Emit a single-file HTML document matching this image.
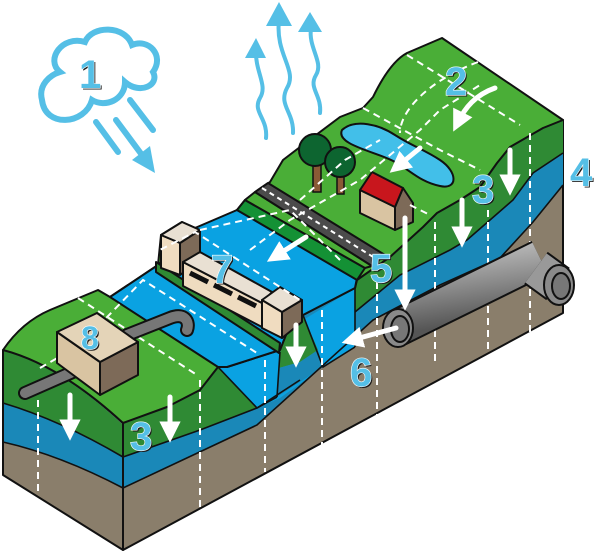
<!DOCTYPE html>
<html><head><meta charset="utf-8"><style>
html,body{margin:0;padding:0;background:#fff;width:600px;height:553px;overflow:hidden}
svg{display:block}
.n{font-family:"Liberation Sans",sans-serif;font-weight:bold;font-size:40px;fill:#55bfe6;stroke:#fff;stroke-width:1.2;paint-order:stroke}
.ns{font-family:"Liberation Sans",sans-serif;font-weight:bold;font-size:40px;fill:#1a1a1a}
.d{fill:none;stroke:#fff;stroke-width:2;stroke-dasharray:7 5}
.o{stroke:#111;stroke-width:2;stroke-linejoin:round}
.wa{stroke:#fff;stroke-width:5;fill:none;stroke-linecap:round}
</style></head><body>
<svg width="600" height="553" viewBox="0 0 600 553" xmlns="http://www.w3.org/2000/svg">
<defs>
<marker id="ah" viewBox="0 0 10 10" refX="5" refY="5" markerWidth="4.3" markerHeight="4.3" orient="auto"><path d="M0,0 L10,5 L0,10 z" fill="#fff"/></marker>
<linearGradient id="pg" x1="0" y1="0" x2="0.3" y2="1"><stop offset="0" stop-color="#bdbdbd"/><stop offset="0.5" stop-color="#8a8a8a"/><stop offset="1" stop-color="#555"/></linearGradient>
</defs>

<g fill="none" stroke="#55bfe6" stroke-width="6" stroke-linecap="round">
<path d="M60,72 C45,60 62,35 85,42 C92,25 125,25 132,45 C148,38 165,55 153,72 C160,85 140,95 125,82 C125,100 105,108 92,100 C85,125 45,128 42,100 C38,85 50,75 60,72 Z"/>
<line x1="96" y1="122" x2="118" y2="152"/>
<line x1="130" y1="100" x2="153" y2="130"/>
<line x1="116" y1="120" x2="142" y2="155" stroke-width="6"/>
</g>
<path d="M132,160 L155,173 L150,146 Z" fill="#55bfe6"/>
<g fill="none" stroke="#55bfe6" stroke-width="4" stroke-linecap="round">
<path d="M266,138 C268,118 252,112 260,98 C268,85 255,72 256,50"/>
<path d="M293,133 C294,112 278,105 287,88 C298,70 275,55 279,20"/>
<path d="M320,113 C322,95 308,88 316,75 C324,62 308,48 311,28"/>
</g>
<path d="M245,58 L256,38 L266,58 Z M266,26 L279,2 L292,26 Z M298,32 L310,12 L322,32 Z" fill="#55bfe6"/>

<path class="o" fill="#8a7e6b" d="M123,423 L167,407 L200,390 L218,367 L227,367 L280,350 L293,317 L303,315 L355,288 L357,280 L390,257 L423,227 L437,213 L460,200 L480,187 L497,163 L510,147 L543,128 L563,120 L563,313 L123,550 Z"/>
<path fill="#1a88b8" d="M123,423 L167,407 L200,390 L218,367 L227,367 L280,350 L293,317 L303,315 L355,288 L357,280 L390,257 L423,227 L437,213 L460,200 L480,187 L497,163 L510,147 L543,128 L563,120 L563,185 L533,222 L500,258 L440,285 L373,320 L257,425 L123,488 Z"/>
<path fill="#2f8a34" d="M123,423 L167,407 L200,390 L218,367 L257,408 L200,430 L123,457 Z"/>
<path fill="#2f8a34" d="M355,288 L357,280 L390,257 L423,227 L437,213 L460,200 L480,187 L497,163 L510,147 L543,128 L563,120 L563,153 L533,173 L513,200 L490,220 L467,240 L450,250 L400,275 L355,312 Z"/>
<path fill="#0aa2e2" d="M218,367 L227,367 L355,288 L355,347 L323,367 L280,398 L257,408 Z"/>
<path fill="#2f8a34" d="M280,352 L293,317 L303,315 L318,350 L300,362 L279,368 Z"/>
<path fill="#1a88b8" d="M279,368 L300,362 L318,350 L323,367 L277,397 Z"/>
<g fill="none" stroke="#111" stroke-width="1.6">
<path d="M123,457 L200,430 L257,408"/>
<path d="M123,488 L257,425 L373,320 L440,285 L500,258 L533,222 L563,185"/>
<path d="M355,312 L400,275 L450,250 L467,240 L490,220 L513,200 L533,173 L563,153"/>
<path d="M218,367 L257,408 L277,397"/>
<path d="M280,352 L277,397 M303,315 L323,367 L355,347 M355,288 L355,347"/>
<path d="M257,408 L300,380"/>
</g>
<line x1="123" y1="423" x2="123" y2="550" stroke="#111" stroke-width="2"/>

<path class="o" fill="#8a7e6b" d="M3,350 Q60,365 123,423 L123,550 L3,475 Z"/>
<path fill="#1a88b8" d="M4,351 Q60,366 122,424 L122,488 Q60,455 4,442 Z"/>
<path fill="#2f8a34" d="M4,351 Q60,366 122,424 L122,457 Q60,420 4,403 Z"/>
<path d="M3,403 Q60,420 123,457 M3,442 Q60,455 123,488" fill="none" stroke="#111" stroke-width="1.6"/>

<path class="o" fill="#4aae37" d="M3,350 Q22,322 50,310 L98,290 L110,297 L158,265 L161,235 L182,222 L200,230 L237,210 L245,200 L258,190 L270,182 L283,160 L300,147 L340,117 L363,108 L373,97 Q390,62 407,53 L442,38 L563,120 L543,128 L510,147 L497,163 L480,187 L460,200 L437,213 L423,227 L390,257 L357,280 L355,288 L303,315 L293,317 L280,350 L227,367 L218,367 L200,390 L167,407 L123,423 Q60,365 3,350 Z"/>
<path class="o" fill="#0aa2e2" d="M110,297 L158,265 L195,228 L237,210 L357,278 L355,288 L303,315 L293,317 L280,350 L227,367 L218,367 Z"/>
<path class="o" fill="#149135" d="M237,210 L245,200 L365,268 L357,280 Z"/>
<path class="o" fill="#4aae37" d="M245,200 L255,192 L372,266 L365,268 Z"/>
<path class="o" fill="#4b4b4b" d="M255,192 L268,183 L385,255 L372,266 Z"/>
<path d="M262,188 L378,260" stroke="#fff" stroke-width="2" stroke-dasharray="5 4"/>
<path class="o" fill="#2f8a34" d="M156,262 L280,343 L279,353 L156,272 Z"/>
<path class="o" fill="#f0dcc0" d="M161,235 L180,243 L180,275 L161,268 Z"/>
<path class="o" fill="#7d6a58" d="M180,243 L200,230 L200,260 L180,275 Z"/>
<path class="o" fill="#e9e0d3" d="M161,235 L182,222 L200,230 L180,243 Z"/>
<path class="o" fill="#efdcc0" d="M183,262 L262,303 L262,327 L183,286 Z"/>
<path class="o" fill="#e9e0d3" d="M183,262 L200,252 L272,292 L262,303 Z"/>
<path d="M190,273 L208,282 M214,285 L232,294 M238,297 L256,306" stroke="#111" stroke-width="5"/>
<path class="o" fill="#f0dcc0" d="M262,300 L282,312 L282,338 L262,328 Z"/>
<path class="o" fill="#7d6a58" d="M282,312 L302,300 L302,322 L282,338 Z"/>
<path class="o" fill="#e9e0d3" d="M262,300 L280,287 L302,300 L282,312 Z"/>

<path class="o" fill="#42bfe9" d="M342,130 C355,118 380,125 395,135 C412,146 425,150 440,160 C458,172 458,190 440,186 C420,182 410,170 395,162 C378,152 335,145 342,130 Z"/>
<rect x="313" y="165" width="8" height="27" fill="#8a5a35" stroke="#111" stroke-width="1.5"/>
<rect x="337" y="175" width="7" height="19" fill="#8a5a35" stroke="#111" stroke-width="1.5"/>
<circle cx="315" cy="150" r="16" fill="#0d6530" stroke="#111" stroke-width="2"/>
<circle cx="340" cy="162" r="15" fill="#0d6530" stroke="#111" stroke-width="2"/>
<path class="o" fill="#d9c4a2" d="M360,190 L395,207 L395,230 L360,213 Z"/>
<path class="o" fill="#7d6a58" d="M395,207 L403,188 L413,203 L413,222 L395,230 Z"/>
<path class="o" fill="#c8161d" d="M360,190 L372,172 L403,188 L395,207 Z"/>

<g class="d">
<path d="M38,400 V495 M200,380 V510 M265,360 V472 M322,310 V445 M377,282 V415 M435,222 V362 M488,210 V352 M530,133 V332"/>
<path d="M78,298 L197,375 M40,368 L80,345 L143,280 L260,355 M150,255 L195,232 L300,300 M200,230 L290,210 L340,260"/>
<path d="M250,250 L290,220 L360,180 L420,130 L440,110 L480,85 M407,55 L520,125 M363,108 L440,150 L480,170 M478,62 C430,80 400,110 400,133 M300,200 L345,160 L380,140 M410,205 L430,215"/>
</g>

<path d="M25,393 L100,360 M127,335 L170,318 C185,312 190,322 187,330" fill="none" stroke="#111" stroke-width="14" stroke-linecap="round"/>
<path d="M25,393 L100,360 M127,335 L170,318 C185,312 190,322 187,330" fill="none" stroke="#777" stroke-width="10" stroke-linecap="round"/>
<path class="o" fill="#d9c4a2" d="M57,332 L100,362 L100,395 L57,363 Z"/>
<path class="o" fill="#7d6a58" d="M100,362 L138,342 L138,375 L100,395 Z"/>
<path class="o" fill="#e4d4b8" d="M57,332 L97,313 L138,342 L100,362 Z"/>

<path d="M398,328 L540,258" stroke="#111" stroke-width="38"/>
<path d="M398,328 L540,258" stroke="url(#pg)" stroke-width="34"/>
<path d="M536,268 L558,284" stroke="#111" stroke-width="40"/>
<path d="M536,268 L558,284" stroke="#999" stroke-width="36"/>
<ellipse cx="559" cy="285" rx="15" ry="20" fill="#8a8a8a" stroke="#111" stroke-width="2"/>
<ellipse cx="561" cy="286" rx="9" ry="13" fill="#777" stroke="#111" stroke-width="2"/>
<ellipse cx="398" cy="328" rx="15" ry="19" fill="#8a8a8a" stroke="#111" stroke-width="2"/>
<ellipse cx="400" cy="329" rx="9" ry="13" fill="#777" stroke="#111" stroke-width="2"/>

<g class="wa" marker-end="url(#ah)">
<path d="M495,88 C475,95 465,108 458,122"/>
<line x1="420" y1="148" x2="398" y2="166"/>
<line x1="306" y1="237" x2="276" y2="256"/>
<line x1="510" y1="150" x2="510" y2="185"/>
<line x1="462" y1="200" x2="462" y2="237"/>
<line x1="405" y1="218" x2="405" y2="300"/>
<line x1="396" y1="328" x2="352" y2="340"/>
<line x1="296" y1="325" x2="296" y2="357"/>
<line x1="70" y1="395" x2="70" y2="430"/>
<line x1="170" y1="397" x2="170" y2="432"/>
</g>

<g class="ns">
<text x="80.5" y="89.5">1</text>
<text x="446.5" y="96.5">2</text>
<text x="473.5" y="204.5">3</text>
<text x="131.5" y="451.5">3</text>
<text x="571.5" y="187.5">4</text>
<text x="371.5" y="283.5">5</text>
<text x="351.5" y="387.5">6</text>
<text x="212.5" y="284.5">7</text>
<text x="82.5" y="350.5" style="font-size:32px">8</text>
</g>
<g class="n">
<text x="79" y="88">1</text>
<text x="445" y="95">2</text>
<text x="472" y="203">3</text>
<text x="130" y="450">3</text>
<text x="570" y="186">4</text>
<text x="370" y="282">5</text>
<text x="350" y="386">6</text>
<text x="211" y="283">7</text>
<text x="81" y="349" style="font-size:32px">8</text>
</g>
</svg>
</body></html>
